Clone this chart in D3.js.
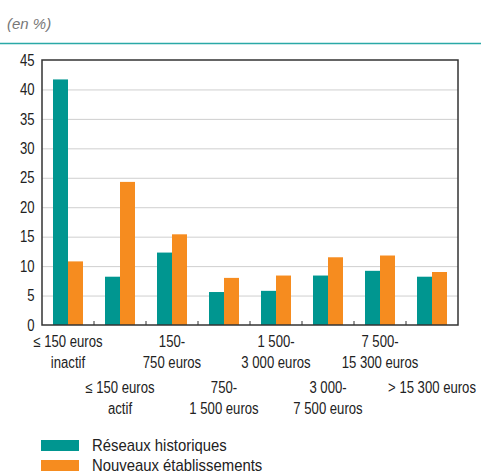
<!DOCTYPE html>
<html>
<head>
<meta charset="utf-8">
<script src="https://cdn.jsdelivr.net/npm/d3@7"></script>
<style>
  body { margin: 0; background: #fff; }
  svg text { font-family: "Liberation Sans", Arial, sans-serif; fill: #222; }
  .grid line { stroke: #cfcfcf; }
  .grid .domain { display: none; }
</style>
</head>
<body>
<svg id="chart" width="481" height="473"></svg>
<script>
const categories = [
  ['≤ 150 euros', 'inactif'],
  ['≤ 150 euros', 'actif'],
  ['150-', '750 euros'],
  ['750-', '1 500 euros'],
  ['1 500-', '3 000 euros'],
  ['3 000-', '7 500 euros'],
  ['7 500-', '15 300 euros'],
  ['> 15 300 euros', ''],
];
const seriesNames = ['Réseaux historiques', 'Nouveaux établissements'];
const historiques = [41.7, 8.2, 12.3, 5.6, 5.8, 8.4, 9.2, 8.2];
const nouveaux = [10.8, 24.3, 15.4, 8.0, 8.4, 11.5, 11.8, 9.0];
const yTicks = [0, 5, 10, 15, 20, 25, 30, 35, 40, 45];
const colors = ['#009690', '#f68c1f'];

const margin = { top: 60, left: 42 };
const width = 416;
const height = 265;
const squeeze = 'scale(0.82,1)';

const svg = d3.select('#chart');

// header
svg.append('text')
  .attr('x', 7).attr('y', 29)
  .style('font-style', 'italic')
  .style('font-size', '15px')
  .style('fill', '#777')
  .text('(en %)');
svg.append('line')
  .attr('x1', 0).attr('x2', 481)
  .attr('y1', 43.5).attr('y2', 43.5)
  .attr('stroke', '#2aa9a7').attr('stroke-width', 1.5);

const g = svg.append('g').attr('transform', `translate(${margin.left},${margin.top})`);

const x0 = d3.scaleBand()
  .domain(d3.range(categories.length))
  .range([0, width]);
const x1 = d3.scaleBand()
  .domain([0, 1])
  .range([0, 30]);
const y = d3.scaleLinear()
  .domain([0, 45])
  .range([height, 0]);

g.append('g')
  .attr('class', 'grid')
  .call(d3.axisLeft(y).tickValues(yTicks.slice(1, -1)).tickSize(-width).tickFormat(''));

const rows = categories.map((c, i) => ({ i, vals: [historiques[i], nouveaux[i]] }));
g.selectAll('g.grp')
  .data(rows)
  .enter().append('g')
  .attr('class', 'grp')
  .attr('transform', d => `translate(${x0(d.i) + (x0.bandwidth() - 30) / 2},0)`)
  .selectAll('rect')
  .data(d => d.vals)
  .enter().append('rect')
  .attr('x', (d, j) => x1(j))
  .attr('width', x1.bandwidth())
  .attr('y', d => y(d))
  .attr('height', d => height - y(d))
  .attr('fill', (d, j) => colors[j]);

// frame
g.append('rect')
  .attr('x', 0).attr('y', 0)
  .attr('width', width).attr('height', height)
  .attr('fill', 'none').attr('stroke', '#333').attr('stroke-width', 1.5);

// small upward ticks between categories
g.selectAll('line.sep')
  .data(d3.range(1, categories.length))
  .enter().append('line')
  .attr('class', 'sep')
  .attr('x1', d => x0(d)).attr('x2', d => x0(d))
  .attr('y1', height).attr('y2', height - 4)
  .attr('stroke', '#333');

// y labels
const yAxis = g.append('g')
  .call(d3.axisLeft(y).tickValues(yTicks).tickSize(0).tickPadding(9));
yAxis.select('.domain').remove();
yAxis.selectAll('text')
  .attr('font-family', null).attr('font-size', null)
  .style('font-size', '16px').style('fill', '#222')
  .attr('transform', squeeze);

// x labels, staggered
const lab = g.selectAll('g.xl')
  .data(categories)
  .enter().append('g')
  .attr('class', 'xl')
  .attr('transform', (d, i) => `translate(${x0(i) + x0.bandwidth() / 2},${height + (i % 2 ? 68 : 22)}) ${squeeze}`)
  .append('text')
  .attr('text-anchor', 'middle')
  .style('font-size', '16px');
lab.append('tspan').attr('x', 0).attr('y', 0).text(d => d[0]);
lab.append('tspan').attr('x', 0).attr('y', 21).text(d => d[1]);

// legend
const leg = svg.append('g').attr('transform', 'translate(41,440)');
seriesNames.forEach((s, i) => {
  leg.append('rect').attr('x', 0).attr('y', i * 20).attr('width', 38).attr('height', 11).attr('fill', colors[i]);
  leg.append('g').attr('transform', `translate(51,${i * 20 + 10.5}) scale(0.93,1)`)
    .append('text').style('font-size', '16px').text(s);
});
</script>
</body>
</html>
